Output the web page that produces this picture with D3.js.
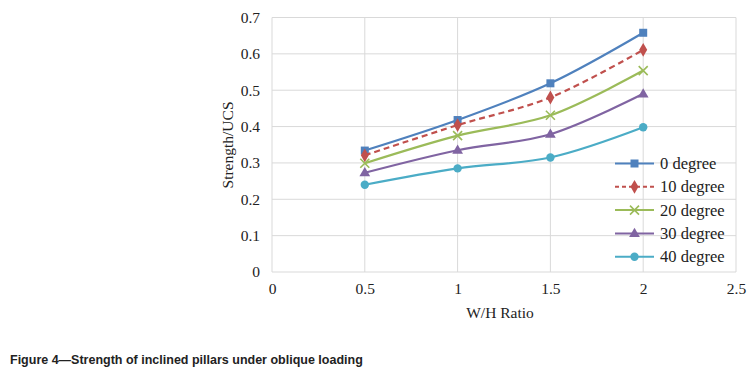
<!DOCTYPE html>
<html>
<head>
<meta charset="utf-8">
<script src="https://cdn.jsdelivr.net/npm/d3@7"></script>
<style>
  body { margin: 0; background: #fff; }
  svg { display: block; }
</style>
</head>
<body>
<script>
var w = 750;
var h = 379;

var ratios = [0.5, 1, 1.5, 2];
var seriesNames = ["0 degree", "10 degree", "20 degree", "30 degree", "40 degree"];
var deg0 = [0.334, 0.418, 0.519, 0.658];
var deg10 = [0.321, 0.404, 0.480, 0.611];
var deg20 = [0.299, 0.375, 0.431, 0.554];
var deg30 = [0.273, 0.335, 0.379, 0.490];
var deg40 = [0.240, 0.285, 0.315, 0.398];
var xTicks = [0, 0.5, 1, 1.5, 2, 2.5];
var yTicks = [0, 0.1, 0.2, 0.3, 0.4, 0.5, 0.6, 0.7];

var colors = ["#4F81BD", "#C0504D", "#9BBB59", "#8064A2", "#4BACC6"];
var markers = ["square", "diamond", "cross", "triangle", "circle"];
var allSeries = [deg0, deg10, deg20, deg30, deg40];

var plotLeft = 272, plotRight = 736, plotTop = 17.5, plotBottom = 272;
var serif = "Liberation Serif, Times New Roman, serif";

var xScale = d3.scaleLinear().domain([0, 2.5]).range([plotLeft, plotRight]);
var yScale = d3.scaleLinear().domain([0, 0.7]).range([plotBottom, plotTop]);

var svg = d3.select("body").append("svg")
  .attr("width", w)
  .attr("height", h);

// grid lines
svg.append("g")
  .selectAll("line")
  .data(yTicks)
  .enter()
  .append("line")
  .attr("x1", plotLeft).attr("x2", plotRight)
  .attr("y1", function(d) { return yScale(d); })
  .attr("y2", function(d) { return yScale(d); })
  .attr("stroke", "#d9d9d9");

svg.append("g")
  .selectAll("line")
  .data(xTicks)
  .enter()
  .append("line")
  .attr("y1", plotTop).attr("y2", plotBottom)
  .attr("x1", function(d) { return xScale(d); })
  .attr("x2", function(d) { return xScale(d); })
  .attr("stroke", "#d9d9d9");

// axes (labels only, lines come from the grid)
var xAxis = d3.axisBottom(xScale).tickValues(xTicks).tickSize(0).tickPadding(11)
  .tickFormat(function(d) { return d; });
var yAxis = d3.axisLeft(yScale).tickValues(yTicks).tickSize(0).tickPadding(12)
  .tickFormat(function(d) { return d; });

var gx = svg.append("g").attr("transform", "translate(0," + plotBottom + ")").call(xAxis);
var gy = svg.append("g").attr("transform", "translate(" + plotLeft + ",0)").call(yAxis);
[gx, gy].forEach(function(g) {
  g.select(".domain").remove();
  g.selectAll("text")
    .attr("font-family", serif)
    .attr("font-size", 15.5)
    .attr("fill", "#222");
});

// lines
var line = d3.line()
  .x(function(d, i) { return xScale(ratios[i]); })
  .y(function(d) { return yScale(d); })
  .curve(d3.curveCatmullRom.alpha(0.5));

function drawMarker(g, type, color, x, y) {
  if (type === "square") {
    g.append("rect").attr("x", x - 4).attr("y", y - 4).attr("width", 8).attr("height", 8).attr("fill", color);
  } else if (type === "diamond") {
    g.append("path").attr("d", d3.symbol().type(d3.symbolDiamond).size(55)).attr("transform", "translate(" + x + "," + y + ")").attr("fill", color);
  } else if (type === "cross") {
    g.append("path").attr("d", "M" + (x - 4.5) + "," + (y - 4.5) + "L" + (x + 4.5) + "," + (y + 4.5) + "M" + (x - 4.5) + "," + (y + 4.5) + "L" + (x + 4.5) + "," + (y - 4.5))
      .attr("stroke", color).attr("stroke-width", 1.6).attr("fill", "none");
  } else if (type === "triangle") {
    g.append("path").attr("d", d3.symbol().type(d3.symbolTriangle).size(50)).attr("transform", "translate(" + x + "," + (y + 0.5) + ")").attr("fill", color);
  } else {
    g.append("circle").attr("cx", x).attr("cy", y).attr("r", 4.2).attr("fill", color);
  }
}

allSeries.forEach(function(s, k) {
  var g = svg.append("g");
  g.append("path")
    .datum(s)
    .attr("d", line)
    .attr("fill", "none")
    .attr("stroke", colors[k])
    .attr("stroke-width", 2.2)
    .attr("stroke-dasharray", k === 1 ? "6,4" : null);
  s.forEach(function(v, i) {
    drawMarker(g, markers[k], colors[k], xScale(ratios[i]), yScale(v));
  });
});

// legend
var legend = svg.append("g");
seriesNames.forEach(function(name, k) {
  var ly = 163.5 + k * 23.3;
  var lg = legend.append("g");
  lg.append("line")
    .attr("x1", 615).attr("x2", 654)
    .attr("y1", ly).attr("y2", ly)
    .attr("stroke", colors[k])
    .attr("stroke-width", 2)
    .attr("stroke-dasharray", k === 1 ? "4,3" : null);
  drawMarker(lg, markers[k], colors[k], 634.5, ly);
  lg.append("text")
    .attr("x", 660)
    .attr("y", ly + 5.5)
    .attr("font-family", serif)
    .attr("font-size", 16.5)
    .attr("fill", "#222")
    .text(name);
});

// axis titles
svg.append("text")
  .attr("x", 500)
  .attr("y", 318)
  .attr("text-anchor", "middle")
  .attr("font-family", serif)
  .attr("font-size", 15.5)
  .attr("fill", "#222")
  .text("W/H Ratio");

svg.append("text")
  .attr("transform", "rotate(-90)")
  .attr("x", -145)
  .attr("y", 233)
  .attr("text-anchor", "middle")
  .attr("font-family", serif)
  .attr("font-size", 15.5)
  .attr("fill", "#222")
  .text("Strength/UCS");

// caption
svg.append("text")
  .attr("x", 10)
  .attr("y", 364)
  .attr("font-family", "Liberation Sans Narrow, Arial Narrow, sans-serif")
  .attr("font-weight", "bold")
  .attr("font-size", 12.5)
  .attr("fill", "#222")
  .text("Figure 4\u2014Strength of inclined pillars under oblique loading");
</script>
</body>
</html>
